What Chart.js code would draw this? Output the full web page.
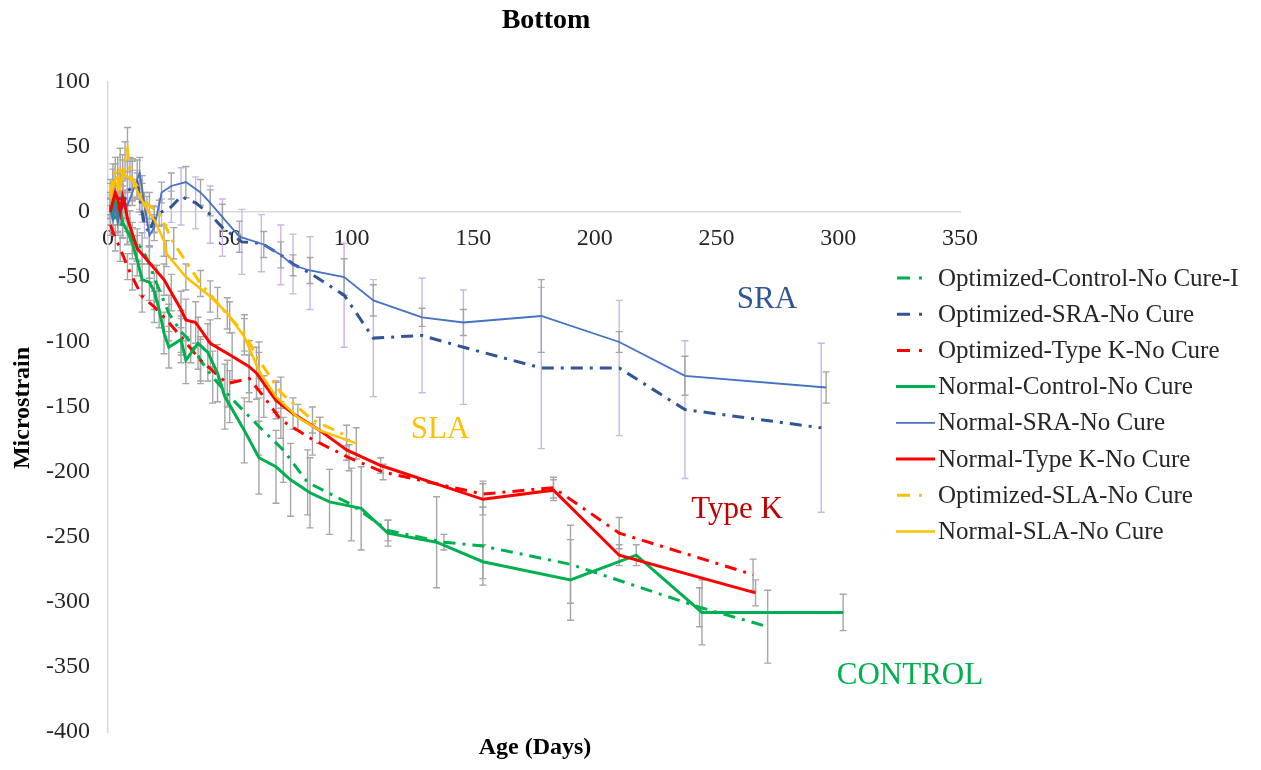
<!DOCTYPE html>
<html>
<head>
<meta charset="utf-8">
<script src="https://cdn.jsdelivr.net/npm/chart.js@4.4.1/dist/chart.umd.min.js"></script>
<style>
  html, body { margin: 0; padding: 0; background: #fff; }
  #wrap { width: 1261px; height: 770px; }
</style>
</head>
<body>
<div id="wrap"><canvas id="chart" width="1261" height="770"></canvas></div>
<script>
const serif = '"Liberation Serif", "Times New Roman", serif';

// age (days), microstrain and error for each series
const ageOptControl = [1, 2, 4, 6, 8, 10, 12, 14, 17, 20, 25, 30, 34, 38, 43, 50, 62, 72, 82, 100, 115, 138, 154, 190, 243, 271];
const strainOptControl = [3, -2, -8, -10, -15, -20, -25, -28, -40, -55, -78, -92, -100, -114, -127, -142, -165, -183, -208, -225, -245, -254, -257, -271, -304, -319];
const errOptControl = [8, 8, 10, 10, 10, 12, 12, 12, 14, 14, 14, 16, 16, 18, 20, 20, 22, 25, 25, 28, 8, 6, 30, 30, 15, 28];

const ageOptSRA = [1, 2, 3, 4, 5, 6, 8, 10, 12, 13, 14, 15, 17, 19, 22, 26, 30, 36, 42, 47, 55, 63, 71, 76, 83, 97, 109, 129, 146, 178, 210, 237, 293];
const strainOptSRA = [5, -3, 8, 0, 12, 5, 15, 20, 22, 12, 0, -10, -16, -5, 0, 4, 12, 7, -2, -12, -23, -24, -33, -40, -47, -64, -97, -95, -104, -120, -120, -152, -166];
const errOptSRA = [8, 10, 8, 10, 8, 10, 10, 12, 10, 10, 8, 10, 10, 10, 10, 12, 22, 20, 22, 22, 25, 22, 23, 23, 28, 40, 45, 44, 44, 62, 52, 53, 65];

const ageOptTypeK = [1, 3, 5, 8, 10, 14, 19, 25, 30, 38, 49, 58, 64, 71, 84, 99, 113, 154, 183, 210, 265];
const strainOptTypeK = [-10, -20, -28, -42, -50, -65, -73, -85, -96, -114, -132, -128, -142, -160, -175, -189, -200, -217, -212, -247, -279];
const errOptTypeK = [8, 10, 10, 10, 10, 12, 12, 14, 14, 16, 18, 18, 16, 14, 12, 10, 6, 10, 8, 12, 12];

const ageNormControl = [1, 2, 3, 4, 5, 6, 8, 10, 12, 14, 17, 19, 21, 23, 25, 30, 32, 37, 41, 45, 48, 56, 62, 69, 75, 83, 91, 104, 115, 135, 154, 190, 217, 244, 302];
const strainNormControl = [5, 0, 8, -5, 2, -8, -15, -24, -37, -52, -54, -61, -75, -93, -104, -98, -114, -101, -108, -124, -142, -168, -189, -196, -206, -216, -223, -228, -247, -254, -269, -283, -264, -308, -308];
const errNormControl = [10, 10, 12, 10, 10, 12, 10, 12, 12, 12, 14, 14, 14, 16, 16, 18, 18, 20, 22, 22, 25, 25, 28, 28, 28, 27, 25, 32, 10, 35, 13, 31, 8, 25, 14];

const ageNormSRA = [1, 2, 3, 4, 5, 6, 8, 10, 12, 13, 14, 15, 17, 19, 22, 26, 32, 38, 42, 47, 54, 64, 71, 76, 83, 97, 109, 129, 146, 178, 210, 237, 295];
const strainNormSRA = [0, -5, 5, -8, 2, 10, 5, 15, 25, 30, 18, 5, -18, -12, 15, 20, 23, 15, 7, -4, -19, -25, -33, -41, -45, -50, -68, -81, -85, -80, -100, -126, -135];
const errNormSRA = [10, 12, 10, 8, 12, 10, 12, 10, 15, 12, 10, 10, 8, 10, 8, 10, 12, 10, 10, 10, 12, 10, 10, 8, 10, 14, 12, 7, 10, 28, 8, 15, 12];

const ageNormTypeK = [1, 2, 3, 4, 5, 6, 7, 8, 9, 12, 17, 23, 26, 30, 32, 36, 42, 51, 58, 61, 69, 76, 87, 98, 112, 154, 183, 210, 266];
const strainNormTypeK = [0, 8, 15, 10, 0, 12, 5, -5, -11, -28, -39, -52, -62, -75, -83, -85, -101, -111, -119, -124, -145, -155, -168, -183, -195, -221, -214, -264, -293];
const errNormTypeK = [10, 12, 10, 12, 10, 12, 10, 10, 12, 10, 12, 12, 14, 14, 16, 16, 18, 18, 20, 20, 14, 12, 10, 8, 6, 12, 8, 8, 10];

const ageOptSLA = [1, 2, 3, 4, 5, 6, 7, 8, 9, 10, 12, 14, 17, 21, 27, 38, 45, 50, 56, 62, 71, 84, 98];
const strainOptSLA = [15, 25, 30, 20, 35, 28, 40, 48, 30, 25, 20, 10, 5, -1, -24, -55, -70, -81, -93, -114, -139, -160, -172];
const errOptSLA = [10, 12, 12, 10, 14, 12, 14, 17, 12, 14, 10, 12, 10, 10, 12, 10, 12, 12, 14, 14, 12, 10, 8];

const ageNormSLA = [1, 2, 3, 4, 5, 6, 8, 10, 13, 16, 19, 23, 24, 32, 42, 49, 56, 62, 69, 78, 87, 102];
const strainNormSLA = [10, 19, 25, 27, 20, 30, 27, 25, 12, 2, -6, -22, -32, -50, -65, -78, -96, -122, -142, -158, -168, -178];
const errNormSLA = [12, 14, 12, 15, 12, 14, 12, 16, 12, 10, 10, 12, 10, 10, 12, 12, 14, 14, 12, 10, 10, 12];

const seriesLabels = [
  'Optimized-Control-No Cure-I',
  'Optimized-SRA-No Cure',
  'Optimized-Type K-No Cure',
  'Normal-Control-No Cure',
  'Normal-SRA-No Cure',
  'Normal-Type K-No Cure',
  'Optimized-SLA-No Cure',
  'Normal-SLA-No Cure',
];

const xTicks = [0, 50, 100, 150, 200, 250, 300, 350];
const yTicks = [100, 50, 0, -50, -100, -150, -200, -250, -300, -350, -400];

const green = '#00B050';
const blueDark = '#2F5597';
const blueLight = '#4472C4';
const red = '#FF0000';
const yellow = '#FFC000';
const grayBar = '#A6A6A6';
const purpleBar = '#C9B6E6';
const dashDot = [12, 7, 3, 7];

function toPoints(ages, values) {
  return ages.map((a, i) => ({ x: a, y: values[i] }));
}

function makeSeries(idx, ages, values, errs, color, width, dashed, errColor) {
  return {
    label: seriesLabels[idx],
    data: toPoints(ages, values),
    errors: errs,
    errColor: errColor,
    borderColor: color,
    backgroundColor: color,
    borderWidth: width,
    borderDash: dashed ? dashDot : [],
    showLine: true,
    pointRadius: 0,
    tension: 0,
    order: 8 - idx,
  };
}

const datasets = [
  makeSeries(0, ageOptControl, strainOptControl, errOptControl, green, 3, true, grayBar),
  makeSeries(1, ageOptSRA, strainOptSRA, errOptSRA, blueDark, 3, true, purpleBar),
  makeSeries(2, ageOptTypeK, strainOptTypeK, errOptTypeK, red, 3, true, grayBar),
  makeSeries(3, ageNormControl, strainNormControl, errNormControl, green, 3, false, grayBar),
  makeSeries(4, ageNormSRA, strainNormSRA, errNormSRA, blueLight, 1.8, false, grayBar),
  makeSeries(5, ageNormTypeK, strainNormTypeK, errNormTypeK, red, 3, false, grayBar),
  makeSeries(6, ageOptSLA, strainOptSLA, errOptSLA, yellow, 3, true, grayBar),
  makeSeries(7, ageNormSLA, strainNormSLA, errNormSLA, yellow, 2.5, false, grayBar),
];

// vertical error bars with caps, drawn under the lines
const errorBars = {
  id: 'errorBars',
  beforeDatasetsDraw(chart) {
    const ctx = chart.ctx;
    const xs = chart.scales.x;
    const ys = chart.scales.y;
    ctx.save();
    ctx.lineWidth = 1.4;
    chart.data.datasets.forEach((ds) => {
      ctx.strokeStyle = ds.errColor;
      ds.data.forEach((p, i) => {
        const e = ds.errors[i];
        const px = xs.getPixelForValue(p.x);
        const top = ys.getPixelForValue(p.y + e);
        const bot = ys.getPixelForValue(p.y - e);
        ctx.beginPath();
        ctx.moveTo(px, top);
        ctx.lineTo(px, bot);
        ctx.moveTo(px - 3.5, top);
        ctx.lineTo(px + 3.5, top);
        ctx.moveTo(px - 3.5, bot);
        ctx.lineTo(px + 3.5, bot);
        ctx.stroke();
      });
    });
    ctx.restore();
  },
};

// legend, titles and series notes
const textLayer = {
  id: 'textLayer',
  afterDraw(chart) {
    const ctx = chart.ctx;
    ctx.save();
    ctx.textBaseline = 'middle';

    ctx.font = '25px ' + serif;
    chart.data.datasets.forEach((ds, i) => {
      const y = 278 + i * 36.2;
      ctx.strokeStyle = ds.borderColor;
      ctx.lineWidth = ds.borderWidth;
      ctx.setLineDash([]);
      ctx.beginPath();
      if (ds.borderDash.length) {
        ctx.moveTo(897, y);
        ctx.lineTo(910, y);
        ctx.moveTo(919, y);
        ctx.lineTo(922, y);
      } else {
        ctx.moveTo(896, y);
        ctx.lineTo(935, y);
      }
      ctx.stroke();
      ctx.fillStyle = '#262626';
      ctx.textAlign = 'left';
      ctx.fillText(ds.label, 938, y + 1);
    });

    ctx.textAlign = 'center';
    ctx.fillStyle = '#000';
    ctx.font = 'bold 28px ' + serif;
    ctx.fillText('Bottom', 546, 21);
    ctx.font = 'bold 24px ' + serif;
    ctx.fillText('Age (Days)', 535, 748);
    ctx.save();
    ctx.translate(23, 408);
    ctx.rotate(-Math.PI / 2);
    ctx.fillText('Microstrain', 0, 0);
    ctx.restore();

    ctx.font = '31px ' + serif;
    ctx.fillStyle = blueDark;
    ctx.fillText('SRA', 767, 300);
    ctx.fillStyle = yellow;
    ctx.fillText('SLA', 440, 430);
    ctx.fillStyle = '#C00000';
    ctx.fillText('Type K', 737, 510);
    ctx.fillStyle = green;
    ctx.fillText('CONTROL', 910, 676);
    ctx.restore();
  },
};

new Chart(document.getElementById('chart'), {
  type: 'scatter',
  data: { datasets: datasets },
  options: {
    responsive: false,
    animation: false,
    layout: { padding: { left: 0, right: 301, top: 82, bottom: 38 } },
    plugins: {
      legend: { display: false },
      title: { display: false },
      tooltip: { enabled: false },
    },
    scales: {
      x: {
        type: 'linear',
        position: { y: 0 },
        min: 0,
        max: 350,
        afterBuildTicks: (s) => { s.ticks = xTicks.map((v) => ({ value: v })); },
        grid: { display: false, drawTicks: false },
        border: { display: true, color: '#D9D9D9', width: 1.5 },
        ticks: { color: '#262626', font: { family: serif, size: 24 }, padding: 12, maxRotation: 0 },
      },
      y: {
        type: 'linear',
        position: 'left',
        min: -400,
        max: 100,
        afterBuildTicks: (s) => { s.ticks = yTicks.map((v) => ({ value: v })); },
        afterFit: (s) => { s.width = 108; },
        grid: { display: false, drawTicks: false },
        border: { display: true, color: '#D9D9D9', width: 1.5 },
        ticks: { color: '#262626', font: { family: serif, size: 24 }, padding: 18 },
      },
    },
  },
  plugins: [errorBars, textLayer],
});
</script>
</body>
</html>
